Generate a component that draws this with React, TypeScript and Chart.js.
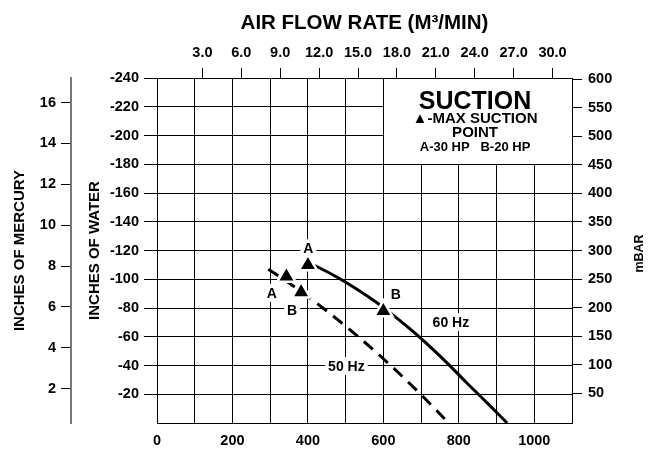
import React, { useEffect, useRef } from 'react';
import { Chart, registerables } from 'chart.js';

Chart.register(...registerables);

const FONT = '"Liberation Sans", Arial, Helvetica, sans-serif';

// Air flow (CFM) vs suction (inches of water)
const flow60 = [400, 430, 480, 530, 583, 630, 680, 725, 768, 820, 875, 928];
const suction60 = [-111.5, -108, -101, -93, -83.6, -74.2, -63.4, -52.8, -42, -28.2, -14, 0];
const flow50 = [295, 350, 400, 430, 477, 530, 600, 653, 706, 773];
const suction50 = [-107, -97.3, -88, -82, -72.3, -60.8, -44.7, -31.7, -18.1, 0];

// Max suction points (A-30 HP, B-20 HP)
const markerFlow = [400, 600, 343, 382];
const markerSuction = [-110, -78, -102, -91];

// Text notes in the plot
const noteTexts = ['A', 'B', 'A', 'B', '60 Hz', '50 Hz'];
const noteFlow = [401, 633, 304, 358, 779, 502];
const noteSuction = [-121.5, -89.4, -90.6, -78.4, -70.2, -39.6];

// Axis ticks
const waterTicks = [-240, -220, -200, -180, -160, -140, -120, -100, -80, -60, -40, -20];
const mercuryTicks = [2, 4, 6, 8, 10, 12, 14, 16];
const mbarTicks = [50, 100, 150, 200, 250, 300, 350, 400, 450, 500, 550, 600];
const m3Ticks = [3, 6, 9, 12, 15, 18, 21, 24, 27, 30];

// Legend box
const boxFlow = [600, 1100];
const boxSuction = [-240, -180];
const boxTextFlow = 843;
const boxLines = ['SUCTION', '\u25B2-MAX SUCTION', 'POINT', 'A-30 HP   B-20 HP'];
const boxLineSuction = [-224.7, -212.3, -202.8, -192.2];
const boxLineSize = [25, 15, 15, 13];

const align = (p: number) => Math.round(p - 0.5) + 0.5;

const annotPlugin = {
  id: 'annot',
  beforeDatasetsDraw(chart: any) {
    const { ctx } = chart;
    const x = chart.scales.x;
    const y = chart.scales.y;
    const l = x.getPixelForValue(boxFlow[0]);
    const r = x.getPixelForValue(boxFlow[1]);
    const t = y.getPixelForValue(boxSuction[0]);
    const b = y.getPixelForValue(boxSuction[1]);
    ctx.save();
    ctx.fillStyle = '#fff';
    ctx.fillRect(l, t, r - l, b - t);
    ctx.strokeStyle = '#000';
    ctx.lineWidth = 1;
    ctx.strokeRect(align(l), align(t), align(r) - align(l), align(b) - align(t));
    ctx.fillStyle = '#000';
    ctx.textAlign = 'center';
    ctx.textBaseline = 'alphabetic';
    const cx = x.getPixelForValue(boxTextFlow);
    boxLines.forEach((txt, i) => {
      const s = boxLineSize[i];
      ctx.font = `bold ${s}px ${FONT}`;
      const cy = y.getPixelForValue(boxLineSuction[i]);
      ctx.fillText(txt, cx, cy + s * 0.358);
    });
    ctx.restore();
  },
  afterDatasetsDraw(chart: any) {
    const { ctx } = chart;
    const x = chart.scales.x;
    const y = chart.scales.y;
    ctx.save();
    ctx.font = `bold 14px ${FONT}`;
    ctx.textAlign = 'center';
    ctx.textBaseline = 'alphabetic';
    noteTexts.forEach((txt, i) => {
      const px = x.getPixelForValue(noteFlow[i]);
      const py = y.getPixelForValue(noteSuction[i]);
      const w = ctx.measureText(txt).width;
      ctx.fillStyle = '#fff';
      ctx.fillRect(px - w / 2 - 3, py - 9, w + 6, 18);
      ctx.fillStyle = '#000';
      ctx.fillText(txt, px, py + 14 * 0.358);
    });
    // right axis title, reading bottom to top
    const ya = chart.scales.yMbar;
    ctx.translate(640, (ya.top + ya.bottom) / 2 + 3);
    ctx.rotate(-Math.PI / 2);
    ctx.font = `bold 12.5px ${FONT}`;
    ctx.fillStyle = '#000';
    ctx.textBaseline = 'middle';
    ctx.fillText('mBAR', 0, 0);
    ctx.restore();
  },
};

const setTicks = (vals: number[]) => (scale: any) => {
  scale.ticks = vals.map((v) => ({ value: v }));
};

const tickFont = { size: 14.5, weight: 'bold' as const, family: FONT };

export default function App() {
  const ref = useRef<HTMLCanvasElement>(null);

  useEffect(() => {
    if (!ref.current) return;
    Chart.defaults.font.family = FONT;
    Chart.defaults.color = '#000';
    const chart = new Chart(ref.current, {
      type: 'line',
      data: {
        datasets: [
          {
            label: '60 Hz',
            data: flow60.map((v, i) => ({ x: v, y: suction60[i] })),
            borderColor: '#000',
            borderWidth: 3,
            pointRadius: 0,
            cubicInterpolationMode: 'monotone',
            order: 4,
          },
          {
            label: '50 Hz',
            data: flow50.map((v, i) => ({ x: v, y: suction50[i] })),
            borderColor: '#000',
            borderWidth: 3,
            borderDash: [12, 8],
            pointRadius: 0,
            cubicInterpolationMode: 'monotone',
            order: 3,
          },
          {
            label: 'halo',
            data: markerFlow.map((v, i) => ({ x: v, y: markerSuction[i] })),
            showLine: false,
            pointStyle: 'triangle',
            pointRadius: 13,
            pointBackgroundColor: '#fff',
            pointBorderWidth: 0,
            order: 2,
          },
          {
            label: 'Max suction point',
            data: markerFlow.map((v, i) => ({ x: v, y: markerSuction[i] })),
            showLine: false,
            pointStyle: 'triangle',
            pointRadius: 8,
            pointBackgroundColor: '#000',
            pointBorderWidth: 0,
            order: 1,
          },
        ],
      },
      options: {
        animation: false,
        responsive: false,
        devicePixelRatio: 1,
        layout: { padding: 0 },
        plugins: { legend: { display: false }, tooltip: { enabled: false } },
        elements: { point: { hoverRadius: 0 } },
        scales: {
          x: {
            type: 'linear',
            position: 'bottom',
            min: 0,
            max: 1100,
            ticks: {
              stepSize: 100,
              autoSkip: false,
              maxRotation: 0,
              padding: 9,
              font: tickFont,
              callback: (v: any) => (Number(v) % 200 === 0 ? String(v) : ''),
            },
            grid: { color: '#000', lineWidth: 1, drawTicks: false },
            border: { display: true, color: '#000', width: 1 },
            afterFit: (s: any) => { s.height = 26; },
          },
          x2: {
            type: 'linear',
            position: 'top',
            min: -0.5,
            max: 31.5,
            afterBuildTicks: setTicks(m3Ticks),
            ticks: {
              autoSkip: false,
              maxRotation: 0,
              padding: 6,
              font: tickFont,
              callback: (v: any) => Number(v).toFixed(1),
            },
            grid: { drawOnChartArea: false, drawTicks: true, tickLength: 10, tickColor: '#000', color: '#000' },
            border: { display: false },
            title: {
              display: true,
              text: 'AIR FLOW RATE (M\u00B3/MIN)',
              font: { size: 20.5, weight: 'bold', family: FONT },
              padding: { top: 11, bottom: 0 },
              color: '#000',
            },
            afterFit: (s: any) => { s.height = 78; },
          },
          y: {
            type: 'linear',
            position: 'left',
            weight: 1,
            reverse: true,
            min: -240,
            max: 0,
            afterBuildTicks: setTicks(waterTicks),
            ticks: { autoSkip: false, padding: 5, font: tickFont },
            grid: { color: '#000', lineWidth: 1, drawTicks: true, tickLength: 13, tickColor: '#000' },
            border: { display: false },
            title: {
              display: true,
              text: 'INCHES OF WATER',
              font: { size: 15, weight: 'bold', family: FONT },
              padding: { top: 15, bottom: 0 },
              color: '#000',
            },
            afterFit: (s: any) => { s.width = 86; },
          },
          yHg: {
            type: 'linear',
            position: 'left',
            weight: 2,
            min: 0.32,
            max: 17.2,
            afterBuildTicks: setTicks(mercuryTicks),
            ticks: { autoSkip: false, padding: 5, font: tickFont },
            grid: { drawOnChartArea: false, drawTicks: true, tickLength: 10, tickColor: '#000', color: '#000' },
            border: { display: true, color: '#777', width: 2 },
            title: {
              display: true,
              text: 'INCHES OF MERCURY',
              font: { size: 15, weight: 'bold', family: FONT },
              padding: { top: 11, bottom: 0 },
              color: '#000',
            },
            afterFit: (s: any) => { s.width = 71; },
          },
          yMbar: {
            type: 'linear',
            position: 'right',
            min: -2,
            max: 602,
            afterBuildTicks: setTicks(mbarTicks),
            ticks: { autoSkip: false, padding: 6, font: tickFont },
            grid: { drawOnChartArea: false, drawTicks: true, tickLength: 10, tickColor: '#000', color: '#000' },
            border: { display: false },
            afterFit: (s: any) => { s.width = 78; },
          },
        },
      },
      plugins: [annotPlugin],
    } as any);
    return () => chart.destroy();
  }, []);

  return (
    <div style={{ position: 'absolute', left: 0, top: 0, width: 650, height: 449, background: '#fff' }}>
      <canvas ref={ref} width={650} height={449} style={{ display: 'block' }} />
    </div>
  );
}
